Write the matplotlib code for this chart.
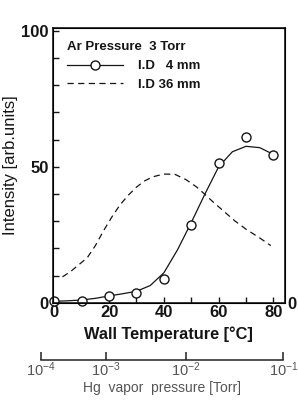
import matplotlib
matplotlib.use('Agg')
import matplotlib.pyplot as plt

plt.rcParams['font.family'] = ['Liberation Sans', 'DejaVu Sans']
plt.rcParams['mathtext.fontset'] = 'custom'
plt.rcParams['mathtext.rm'] = 'Liberation Sans'
plt.rcParams['mathtext.it'] = 'Liberation Sans'

# measured points, I.D 4 mm
temp_pts = [0, 10, 20, 30, 40, 50, 60, 70, 80]
id4_pts = [0.5, 0.5, 2.6, 3.6, 8.8, 28.7, 51.4, 61.1, 54.2]

# fitted curve through the 4 mm points
curve_t = [0, 5, 10, 15, 20, 25, 30, 35, 40, 45, 50, 55, 60, 65, 70, 75, 80]
curve_4 = [0.5, 0.7, 1.0, 1.6, 2.5, 3.3, 4.2, 6.3, 11, 19.5, 29.5, 40, 50, 55.5, 57.5, 57, 54.5]

# I.D 36 mm curve
dash_t = [3, 6, 9, 12, 15, 18, 21, 24, 27, 30, 33, 36, 40, 44, 48, 52, 55, 58, 62, 66, 70, 75, 79]
dash_36 = [9.5, 11.5, 14, 16.5, 21, 26.5, 31.5, 36, 39.5, 42.5, 44.8, 46.3, 47.3, 47.2, 45.3,
           42.5, 39.8, 37, 33.5, 30, 27, 23.8, 21]

# Hg vapor pressure scale (positions in wall temperature)
hg_temps = [-4.96, 18.9, 48.1, 83.5]
hg_labels = [r'$10^{-4}$', r'$10^{-3}$', r'$10^{-2}$', r'$10^{-1}$']

W, H = 298, 401
fig = plt.figure(figsize=(W / 100, H / 100), dpi=100)
fig.patch.set_facecolor('white')

ink = '#151515'
ax = fig.add_axes([52.7 / W, (H - 302.7) / H, (285 - 52.7) / W, (302.7 - 28) / H])
ax.plot(curve_t, curve_4, color=ink, linewidth=0.9)
ax.plot(temp_pts, id4_pts, linestyle='none', marker='o', markersize=6.5,
        markerfacecolor='white', markeredgecolor=ink, markeredgewidth=1.0, clip_on=False)
ax.plot(dash_t, dash_36, color=ink, linewidth=0.9, linestyle=(0, (5, 3.5)))

# legend entries
ax.plot([], [], color=ink, linewidth=0.9, marker='o', markersize=6.5, markerfacecolor='white',
        markeredgecolor=ink, label='I.D   4 mm')
ax.plot([], [], color=ink, linewidth=0.9, linestyle=(0, (5, 3.5)), label='I.D 36 mm')
handles, labels = ax.get_legend_handles_labels()
leg = ax.legend(handles[-2:], labels[-2:], loc='upper left', bbox_to_anchor=(0.02, 0.985),
                frameon=False, title='Ar Pressure  3 Torr', alignment='left',
                prop={'weight': 'bold', 'size': 9.5}, title_fontproperties={'weight': 'bold', 'size': 9.5},
                handlelength=4.3, handletextpad=1.1, labelspacing=0.5, borderpad=0.2)
for t in leg.get_texts():
    t.set_color(ink)
leg.get_title().set_color(ink)

ax.set_xlim(-0.58, 84.2)
ax.set_ylim(0, 101)
ax.set_xticks(range(0, 81, 10))
ax.set_xticklabels(['0', '', '20', '', '40', '', '60', '', '80'])
ax.set_yticks(range(0, 101, 10))
ax.set_yticklabels(['0', '', '', '', '', '50', '', '', '', '', '100'])
ax.tick_params(direction='in', length=4.5, width=1.0, color=ink, labelsize=12, labelcolor=ink)
ax.tick_params(axis='x', pad=2)
ax.tick_params(axis='y', pad=3)
for lbl in ax.get_xticklabels() + ax.get_yticklabels():
    lbl.set_fontweight('bold')
for s in ax.spines.values():
    s.set_linewidth(1.2)
    s.set_color(ink)

ax.set_xlabel('Wall Temperature [°C]', fontsize=11.8, fontweight='bold', color=ink, labelpad=4)
ax.set_ylabel('Intensity [arb.units]', fontsize=12, color=ink, labelpad=2)

# right-hand zero
ax_r = ax.twinx()
ax_r.set_ylim(ax.get_ylim())
ax_r.set_yticks([0])
ax_r.set_yticklabels(['0'])
ax_r.tick_params(length=0, pad=2, labelsize=12, labelcolor=ink)
for lbl in ax_r.get_yticklabels():
    lbl.set_fontweight('bold')

# Hg vapor pressure scale
grey = '#555555'
ax3 = fig.add_axes([40.7 / W, (H - 360) / H, (283.3 - 40.7) / W, 0.0001])
ax3.set_xlim(hg_temps[0], hg_temps[-1])
ax3.set_yticks([])
for side in ['top', 'left', 'right']:
    ax3.spines[side].set_visible(False)
ax3.spines['bottom'].set_linewidth(1.1)
ax3.spines['bottom'].set_color('#222222')
ax3.set_xticks(hg_temps)
ax3.set_xticklabels(hg_labels)
ax3.tick_params(axis='x', direction='in', length=6, width=1.1, color='#222222',
                labelsize=10.5, labelcolor=grey, pad=0.5)
ax3.set_xlabel('Hg  vapor  pressure [Torr]', fontsize=10, color=grey, labelpad=1)

fig.savefig('out.png', dpi=100, facecolor='white')
